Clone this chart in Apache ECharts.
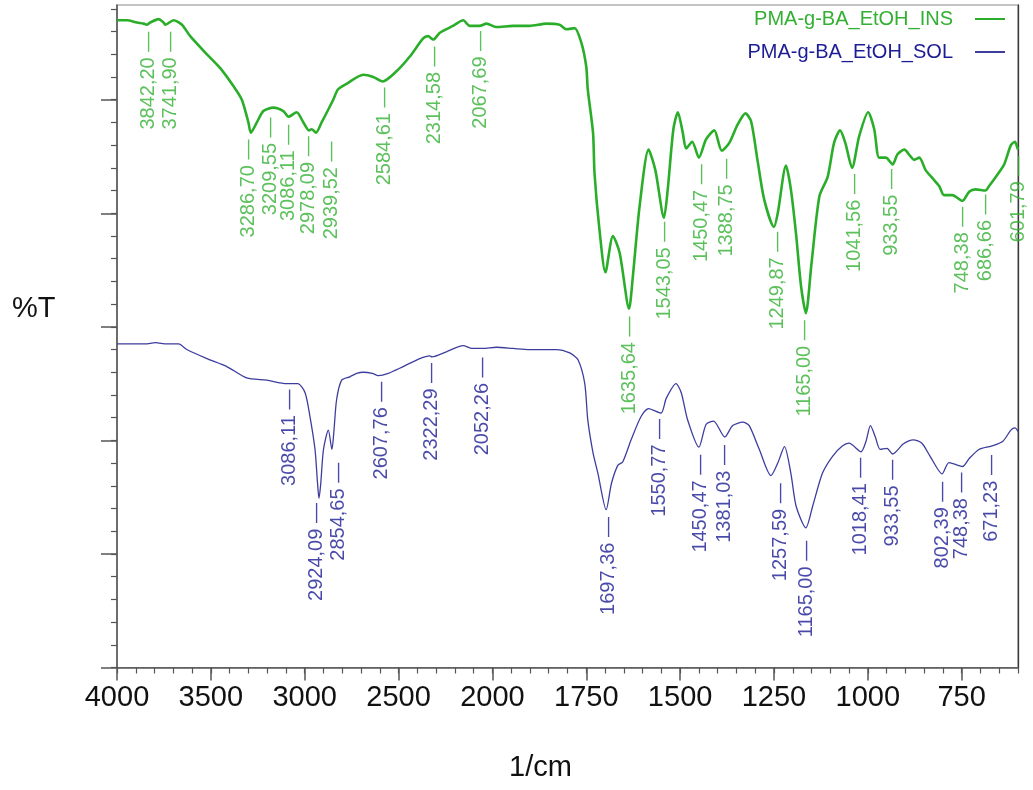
<!DOCTYPE html>
<html><head><meta charset="utf-8">
<script src="https://cdn.jsdelivr.net/npm/echarts@6/dist/echarts.min.js"></script>
<style>html,body{margin:0;padding:0;background:#fff}#c{width:1033px;height:790px}</style>
</head><body><div id="c"></div>
<script>
const insName = 'PMA-g-BA_EtOH_INS';
const solName = 'PMA-g-BA_EtOH_SOL';
const xTickLabels = [4000, 3500, 3000, 2500, 2000, 1750, 1500, 1250, 1000, 750];
const yMajorTicks = [0, 10, 20, 30, 40, 50];

// [wavenumber (1/cm), %T (arbitrary)]
const insSpectrum = [[4000,57.0],[3947,57.0],[3894,56.8],[3858,56.7],[3842,56.6],[3823,56.8],[3779,57.1],[3752,56.8],[3742,56.6],[3699,57.0],[3654,56.6],[3610,55.6],[3521,54.0],[3451,52.8],[3380,51.2],[3335,50.0],[3300,48.0],[3287,47.1],[3255,48.0],[3220,49.0],[3167,49.3],[3114,49.0],[3086,48.5],[3043,48.9],[3007,48.0],[2978,47.3],[2963,47.4],[2940,47.1],[2910,48.0],[2848,50.0],[2823,50.9],[2777,51.4],[2688,52.2],[2635,52.0],[2585,51.6],[2511,52.5],[2440,53.8],[2369,55.4],[2343,55.6],[2315,55.3],[2280,55.9],[2210,56.5],[2156,57.0],[2121,56.5],[2068,56.5],[2031,56.7],[1989,56.4],[1945,56.5],[1901,56.5],[1856,56.7],[1821,56.6],[1803,56.2],[1781,56.3],[1763,55.0],[1750,52.9],[1746,50.9],[1732,47.1],[1728,43.5],[1715,38.6],[1699,34.8],[1679,38.0],[1661,36.5],[1636,31.6],[1626,34.4],[1608,40.6],[1584,45.6],[1566,43.8],[1543,39.6],[1533,42.1],[1518,47.4],[1506,48.9],[1493,47.1],[1484,45.7],[1468,46.3],[1450,44.9],[1431,46.5],[1409,47.3],[1389,45.5],[1369,46.2],[1347,47.8],[1326,48.8],[1311,48.1],[1294,44.7],[1276,41.2],[1250,38.8],[1240,40.0],[1218,44.2],[1205,42.1],[1191,38.1],[1178,33.6],[1165,31.2],[1150,35.6],[1129,41.5],[1107,43.2],[1090,46.2],[1074,47.3],[1060,46.2],[1042,44.0],[1023,46.8],[999,48.9],[983,47.4],[970,44.9],[952,44.9],[934,44.3],[921,45.2],[903,45.6],[886,45.0],[877,44.7],[863,44.9],[846,43.8],[828,43.1],[810,42.4],[797,41.6],[775,41.6],[748,41.1],[730,41.9],[713,42.1],[687,42.0],[677,42.4],[655,43.4],[637,44.3],[619,46.0],[608,46.3],[602,45.8],[600,45.6]];

const solSpectrum = [[4000,28.5],[3912,28.5],[3850,28.5],[3796,28.6],[3734,28.5],[3672,28.5],[3628,28.0],[3521,27.2],[3415,26.5],[3309,25.5],[3202,25.3],[3096,25.0],[3037,25.0],[2998,24.2],[2972,22.1],[2945,19.2],[2932,16.3],[2924,14.9],[2915,16.1],[2900,19.2],[2874,20.9],[2855,19.2],[2844,20.9],[2830,23.6],[2803,25.3],[2759,25.6],[2723,25.9],[2688,26.0],[2640,25.9],[2608,25.7],[2555,25.9],[2476,26.5],[2387,27.2],[2334,27.45],[2322,27.35],[2245,27.8],[2156,28.35],[2112,28.1],[2052,28.1],[1989,28.2],[1945,28.1],[1901,28.0],[1830,28.0],[1794,27.7],[1772,27.1],[1754,25.0],[1746,21.8],[1732,18.9],[1719,17.1],[1697,13.9],[1683,16.2],[1666,17.8],[1653,18.1],[1630,20.1],[1604,22.1],[1584,22.8],[1551,22.4],[1537,23.7],[1511,25.0],[1497,24.2],[1480,21.8],[1450,19.4],[1431,21.4],[1411,21.7],[1381,20.3],[1360,21.3],[1333,21.6],[1316,21.3],[1289,19.2],[1258,16.9],[1240,18.0],[1222,19.45],[1205,17.1],[1191,14.2],[1165,12.3],[1147,14.2],[1121,17.1],[1094,18.6],[1068,19.5],[1050,19.75],[1018,19.0],[1005,19.9],[993,21.3],[980,20.3],[967,19.2],[949,19.3],[934,18.8],[905,19.7],[879,20.05],[856,19.75],[834,18.6],[802,17.05],[784,18.05],[748,17.7],[730,18.4],[704,19.2],[671,19.5],[641,19.9],[619,20.9],[608,21.1],[600,20.8]];

const insPeaks = [3842.20, 3741.90, 3286.70, 3209.55, 3086.11, 2978.09, 2939.52, 2584.61, 2314.58, 2067.69, 1635.64, 1543.05, 1450.47, 1388.75, 1249.87, 1165.00, 1041.56, 933.55, 748.38, 686.66, 601.79];
const solPeaks = [3086.11, 2924.09, 2854.65, 2607.76, 2322.29, 2052.26, 1697.36, 1550.77, 1450.47, 1381.03, 1257.59, 1165.00, 1018.41, 933.55, 802.39, 748.38, 671.23];

// label layout: [dx, dy] screen-pixel shift of each peak label from its peak
const insLabelShift = [[2,7],[5,7],[-2,7],[5,7],[0,8],[0,6],[15,9],[2,6],[1,7],[1,5],[0,9],[1,4],[3,7],[5,8],[3,5],[-1,7],[2,7],[-1,5],[0,6],[0,4],[1,8]];
const solLabelShift = [[1,6],[-2,5],[6,14],[3,6],[0,6],[0,9],[2,8],[-2,6],[2,8],[0,8],[9,8],[1,13],[0,6],[0,6],[0,8],[-1,6],[0,9]];

// x-axis: 4000-2000 at 500/unit, below 2000 at 250/unit (instrument's split scale)
function toU(wn) { return wn >= 2000 ? (4000 - wn) / 500 : 4 + (2000 - wn) / 250; }
function fromU(u) { return u <= 4 ? 4000 - 500 * u : 2000 - 250 * (u - 4); }
function valueAt(spec, wn) {
  for (let i = 0; i < spec.length - 1; i++) {
    const a = spec[i], b = spec[i + 1];
    if (wn <= a[0] && wn >= b[0]) { const t = (a[0] - wn) / (a[0] - b[0]); return a[1] + t * (b[1] - a[1]); }
  }
  return spec[spec.length - 1][1];
}
const xMinor = [];
for (let w = 4000; w >= 2000; w -= 100) xMinor.push(toU(w));
for (let w = 1950; w >= 600; w -= 50) xMinor.push(toU(w));
const yMinor = [];
for (let v = 0; v <= 58; v += 2) yMinor.push(v);

const FONT = '"Liberation Sans", Arial, sans-serif';
const GREEN = '#2aae2a', GREEN_T = '#33b033';
const NAVY = '#3d3d9e', NAVY_T = '#1c1c94';
const AX = '#555';

function labelSeries(name, peaks, shifts, spec, color) {
  return {
    name, type: 'scatter', symbolSize: 1, silent: true, z: 5,
    itemStyle: { color: 'rgba(0,0,0,0)' },
    data: peaks.map((p, i) => ({
      value: [toU(p), valueAt(spec, p)],
      label: {
        show: true, position: 'inside', rotate: 90, align: 'right', verticalAlign: 'middle',
        // offset is in the label's rotated frame: [-down, right]
        offset: [-shifts[i][1], shifts[i][0]], color, fontSize: 20, fontFamily: FONT,
        formatter: p.toFixed(2).replace('.', ',') + ' \u2014'
      }
    }))
  };
}

const chart = echarts.init(document.getElementById('c'), null, { renderer: 'canvas' });
chart.setOption({
  backgroundColor: '#fff',
  animation: false,
  grid: { left: 117, right: 15, top: 5, bottom: 122.5, show: true, borderColor: '#8a8a8a', borderWidth: 1.2 },
  legend: {
    data: [{ name: insName, textStyle: { color: GREEN_T } }, { name: solName, textStyle: { color: NAVY_T } }],
    orient: 'vertical', right: 28, top: 9, align: 'right', icon: 'rect', itemWidth: 30, itemHeight: 2,
    itemGap: 13, padding: 0, selectedMode: false,
    textStyle: { fontSize: 20, fontFamily: FONT, padding: [0, 17, 0, 0] }
  },
  xAxis: [
    { type: 'value', min: 0, max: 9.6, position: 'bottom', splitLine: { show: false },
      axisLine: { lineStyle: { color: AX, width: 1.5 } },
      axisTick: { customValues: xMinor, length: 6, lineStyle: { color: AX, width: 1.2 } },
      axisLabel: { show: false } },
    { type: 'value', min: 0, max: 9.6, position: 'bottom', splitLine: { show: false },
      axisLine: { show: false },
      axisTick: { customValues: xTickLabels.map(toU), length: 13, lineStyle: { color: AX, width: 1.5 } },
      axisLabel: { customValues: xTickLabels.map(toU), margin: 16, color: '#111', fontSize: 29, fontFamily: FONT,
        formatter: v => String(Math.round(fromU(v))) },
      name: '1/cm', nameLocation: 'middle', nameGap: 86,
      nameTextStyle: { color: '#111', fontSize: 29, fontFamily: FONT, padding: [0, 54, 0, 0] } }
  ],
  yAxis: [
    { type: 'value', min: 0, max: 58.34, position: 'left', splitLine: { show: false },
      axisLine: { show: true, lineStyle: { color: AX, width: 1.5 } },
      axisTick: { customValues: yMinor, length: 6, lineStyle: { color: AX, width: 1.2 } },
      axisLabel: { show: false } },
    { type: 'value', min: 0, max: 58.34, position: 'left', splitLine: { show: false },
      axisLine: { show: false },
      axisTick: { customValues: yMajorTicks, length: 16, lineStyle: { color: AX, width: 1.5 } },
      axisLabel: { show: false } },
    { type: 'value', min: 0, max: 58.34, position: 'right', splitLine: { show: false },
      axisLine: { show: true, lineStyle: { color: '#3a3a3a', width: 1.3 } },
      axisTick: { show: false }, axisLabel: { show: false } }
  ],
  graphic: [{ type: 'text', left: 12, top: 294, style: { text: '%T', font: '29px ' + FONT, fill: '#111' } }],
  series: [
    { name: insName, type: 'line', showSymbol: false, smooth: 0.25, silent: true, z: 3,
      lineStyle: { color: GREEN, width: 2.6 }, itemStyle: { color: GREEN },
      data: insSpectrum.map(d => [toU(d[0]), d[1]]) },
    { name: solName, type: 'line', showSymbol: false, smooth: 0.25, silent: true, z: 3,
      lineStyle: { color: NAVY, width: 1.3 }, itemStyle: { color: NAVY },
      data: solSpectrum.map(d => [toU(d[0]), d[1]]) },
    labelSeries('insLabels', insPeaks, insLabelShift, insSpectrum, GREEN_T),
    labelSeries('solLabels', solPeaks, solLabelShift, solSpectrum, NAVY_T)
  ]
});
</script></body></html>
